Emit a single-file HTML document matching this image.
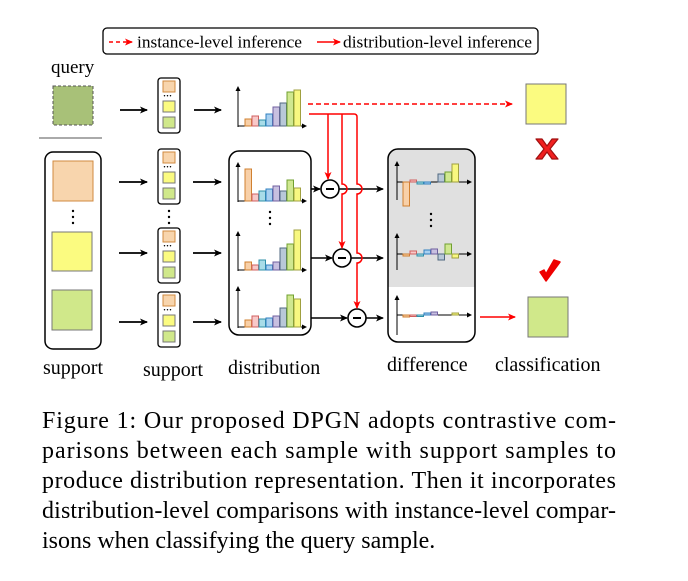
<!DOCTYPE html>
<html><head><meta charset="utf-8"><style>
html,body{margin:0;padding:0;background:#fff;}
svg{display:block;}
text{font-family:"Liberation Serif",serif;}
</style></head><body>
<svg width="688" height="581" viewBox="0 0 688 581" xmlns="http://www.w3.org/2000/svg">
<defs>
<marker id="ab" markerWidth="8" markerHeight="8" refX="7" refY="4" orient="auto" markerUnits="userSpaceOnUse"><path d="M0,0.5 L8,4 L0,7.5 L2,4 Z" fill="#000"/></marker>
<marker id="ar" markerWidth="8" markerHeight="8" refX="7" refY="4" orient="auto" markerUnits="userSpaceOnUse"><path d="M0,0.5 L8,4 L0,7.5 L2,4 Z" fill="#f00"/></marker>
<marker id="as" markerWidth="5" markerHeight="5" refX="4" refY="2.5" orient="auto" markerUnits="userSpaceOnUse"><path d="M0,0 L5,2.5 L0,5 Z" fill="#000"/></marker>
</defs>

<!-- legend -->
<rect x="103" y="28" width="435" height="26" rx="4" fill="#fff" stroke="#000" stroke-width="1.3"/>
<line x1="109" y1="42" x2="132" y2="42" stroke="#f00" stroke-width="1.5" stroke-dasharray="4,3" marker-end="url(#ar)"/>
<text x="137" y="47.5" font-size="17" textLength="165" lengthAdjust="spacingAndGlyphs">instance-level inference</text>
<line x1="317" y1="42" x2="340" y2="42" stroke="#f00" stroke-width="1.5" marker-end="url(#ar)"/>
<text x="343" y="47.5" font-size="17" textLength="189" lengthAdjust="spacingAndGlyphs">distribution-level inference</text>

<!-- query -->
<text x="51" y="73" font-size="19">query</text>
<rect x="53" y="86" width="40" height="39" fill="#a8c178" stroke="#555" stroke-dasharray="3,2"/>
<line x1="39" y1="138" x2="102" y2="138" stroke="#aaa" stroke-width="2"/>

<!-- support box -->
<rect x="45" y="152" width="56" height="197" rx="8" fill="#fff" stroke="#000" stroke-width="1.5"/>
<rect x="53" y="161" width="40" height="40" fill="#f8d5ad" stroke="#d08a40"/>
<circle cx="73" cy="211" r="1.2"/><circle cx="73" cy="217" r="1.2"/><circle cx="73" cy="223" r="1.2"/>
<rect x="52" y="232" width="40" height="39" fill="#fbfb80" stroke="#777"/>
<rect x="52" y="290" width="40" height="40" fill="#d0e88a" stroke="#777"/>

<!-- arrows col1 -->
<g stroke="#000" stroke-width="1.8" marker-end="url(#ab)">
<line x1="120" y1="110" x2="147" y2="110"/>
<line x1="119" y1="182" x2="147" y2="182"/>
<line x1="119" y1="253" x2="147" y2="253"/>
<line x1="119" y1="322" x2="147" y2="322"/>
<line x1="194" y1="110" x2="221" y2="110"/>
<line x1="193" y1="182" x2="221" y2="182"/>
<line x1="193" y1="253" x2="221" y2="253"/>
<line x1="193" y1="322" x2="221" y2="322"/>
</g>

<!-- small stacks -->
<g id="stk">
<rect x="158" y="78" width="22" height="55" rx="3" fill="#fff" stroke="#000" stroke-width="1.3"/>
<rect x="163" y="81" width="12" height="11" fill="#f8d5ad" stroke="#d08a40"/>
<text x="163" y="99" font-size="9" font-weight="bold">···</text>
<rect x="163" y="101" width="12" height="11" fill="#fbfb80" stroke="#777"/>
<rect x="163" y="117" width="12" height="11" fill="#d0e88a" stroke="#777"/>
</g>
<use href="#stk" y="71"/>
<use href="#stk" y="150"/>
<use href="#stk" y="214"/>
<circle cx="169" cy="211" r="1.2"/><circle cx="169" cy="217" r="1.2"/><circle cx="169" cy="223" r="1.2"/>

<!-- distribution box -->
<rect x="229" y="151" width="82" height="184" rx="10" fill="#fff" stroke="#000" stroke-width="1.5"/>
<circle cx="270" cy="212" r="1.2"/><circle cx="270" cy="218" r="1.2"/><circle cx="270" cy="224" r="1.2"/>

<!-- histogram axes -->
<g stroke="#000" stroke-width="1">
<line x1="238" y1="127" x2="238" y2="87" marker-end="url(#as)"/><line x1="238" y1="126" x2="306" y2="126" marker-end="url(#as)"/>
<line x1="238" y1="202" x2="238" y2="163" marker-end="url(#as)"/><line x1="238" y1="201" x2="306" y2="201" marker-end="url(#as)"/>
<line x1="238" y1="271" x2="238" y2="232" marker-end="url(#as)"/><line x1="238" y1="270" x2="306" y2="270" marker-end="url(#as)"/>
<line x1="238" y1="328" x2="238" y2="287" marker-end="url(#as)"/><line x1="238" y1="327" x2="306" y2="327" marker-end="url(#as)"/>
</g>
<g stroke-width="1">
<rect x="245" y="119" width="6.5" height="7" fill="#f8d0a8" stroke="#d08030"/>
<rect x="252" y="116" width="6.5" height="10" fill="#f8c8c8" stroke="#d06060"/>
<rect x="259" y="120" width="6.5" height="6" fill="#a8dce8" stroke="#3090a8"/>
<rect x="266" y="114" width="6.5" height="12" fill="#a8d0f0" stroke="#3080c0"/>
<rect x="273" y="107" width="6.5" height="19" fill="#c8c0e0" stroke="#7060a0"/>
<rect x="280" y="103" width="6.5" height="23" fill="#b8c8d8" stroke="#506880"/>
<rect x="287" y="92" width="6.5" height="34" fill="#d0e890" stroke="#70a030"/>
<rect x="294" y="90" width="6.5" height="36" fill="#f8f880" stroke="#a0a040"/>
<rect x="245" y="169" width="6.5" height="32" fill="#f8d0a8" stroke="#d08030"/>
<rect x="252" y="194" width="6.5" height="7" fill="#f8c8c8" stroke="#d06060"/>
<rect x="259" y="191" width="6.5" height="10" fill="#a8dce8" stroke="#3090a8"/>
<rect x="266" y="189" width="6.5" height="12" fill="#a8d0f0" stroke="#3080c0"/>
<rect x="273" y="186" width="6.5" height="15" fill="#c8c0e0" stroke="#7060a0"/>
<rect x="280" y="191" width="6.5" height="10" fill="#b8c8d8" stroke="#506880"/>
<rect x="287" y="180" width="6.5" height="21" fill="#d0e890" stroke="#70a030"/>
<rect x="294" y="188" width="6.5" height="13" fill="#f8f880" stroke="#a0a040"/>
<rect x="245" y="262" width="6.5" height="8" fill="#f8d0a8" stroke="#d08030"/>
<rect x="252" y="265" width="6.5" height="5" fill="#f8c8c8" stroke="#d06060"/>
<rect x="259" y="260" width="6.5" height="10" fill="#a8dce8" stroke="#3090a8"/>
<rect x="266" y="265" width="6.5" height="5" fill="#a8d0f0" stroke="#3080c0"/>
<rect x="273" y="262" width="6.5" height="8" fill="#c8c0e0" stroke="#7060a0"/>
<rect x="280" y="248" width="6.5" height="22" fill="#b8c8d8" stroke="#506880"/>
<rect x="287" y="244" width="6.5" height="26" fill="#d0e890" stroke="#70a030"/>
<rect x="294" y="230" width="6.5" height="40" fill="#f8f880" stroke="#a0a040"/>
<rect x="245" y="320" width="6.5" height="7" fill="#f8d0a8" stroke="#d08030"/>
<rect x="252" y="316" width="6.5" height="11" fill="#f8c8c8" stroke="#d06060"/>
<rect x="259" y="319" width="6.5" height="8" fill="#a8dce8" stroke="#3090a8"/>
<rect x="266" y="318" width="6.5" height="9" fill="#a8d0f0" stroke="#3080c0"/>
<rect x="273" y="316" width="6.5" height="11" fill="#c8c0e0" stroke="#7060a0"/>
<rect x="280" y="308" width="6.5" height="19" fill="#b8c8d8" stroke="#506880"/>
<rect x="287" y="295" width="6.5" height="32" fill="#d0e890" stroke="#70a030"/>
<rect x="294" y="299" width="6.5" height="28" fill="#f8f880" stroke="#a0a040"/>
</g>

<!-- difference box -->
<rect x="388" y="149" width="87" height="193" rx="10" fill="#fff"/>
<path d="M398,149 H465 A10,10 0 0 1 475,159 V287 H388 V159 A10,10 0 0 1 398,149 Z" fill="#e0e0e0"/>
<rect x="388" y="149" width="87" height="193" rx="10" fill="none" stroke="#000" stroke-width="1.5"/>
<circle cx="431" cy="214" r="1.2"/><circle cx="431" cy="220" r="1.2"/><circle cx="431" cy="226" r="1.2"/>
<g stroke="#000" stroke-width="1">
<line x1="397" y1="200" x2="397" y2="162" marker-end="url(#as)"/><line x1="397" y1="182" x2="471" y2="182" marker-end="url(#as)"/>
<line x1="397" y1="270" x2="397" y2="234" marker-end="url(#as)"/><line x1="397" y1="254" x2="471" y2="254" marker-end="url(#as)"/>
<line x1="397" y1="335" x2="397" y2="296" marker-end="url(#as)"/><line x1="397" y1="315" x2="471" y2="315" marker-end="url(#as)"/>
</g>
<g stroke-width="1">
<rect x="403" y="182" width="6.5" height="24" fill="#f8d0a8" stroke="#d08030"/>
<rect x="410" y="180" width="6.5" height="2" fill="#f8c8c8" stroke="#d06060"/>
<rect x="417" y="182" width="6.5" height="2" fill="#a8dce8" stroke="#3090a8"/>
<rect x="424" y="182" width="6.5" height="2" fill="#a8d0f0" stroke="#3080c0"/>
<rect x="438" y="174" width="6.5" height="8" fill="#b8c8d8" stroke="#506880"/>
<rect x="445" y="172" width="6.5" height="10" fill="#d0e890" stroke="#70a030"/>
<rect x="452" y="164" width="6.5" height="18" fill="#f8f880" stroke="#a0a040"/>
<rect x="403" y="254" width="6.5" height="2" fill="#f8d0a8" stroke="#d08030"/>
<rect x="410" y="251" width="6.5" height="3" fill="#f8c8c8" stroke="#d06060"/>
<rect x="417" y="254" width="6.5" height="2" fill="#a8dce8" stroke="#3090a8"/>
<rect x="424" y="250" width="6.5" height="4" fill="#a8d0f0" stroke="#3080c0"/>
<rect x="431" y="249" width="6.5" height="5" fill="#c8c0e0" stroke="#7060a0"/>
<rect x="438" y="254" width="6.5" height="6" fill="#b8c8d8" stroke="#506880"/>
<rect x="445" y="244" width="6.5" height="10" fill="#d0e890" stroke="#70a030"/>
<rect x="452" y="254" width="6.5" height="4" fill="#f8f880" stroke="#a0a040"/>
<rect x="403" y="315" width="6.5" height="2" fill="#f8d0a8" stroke="#d08030"/>
<rect x="410" y="315" width="6.5" height="1.5" fill="#f8c8c8" stroke="#d06060"/>
<rect x="417" y="315" width="6.5" height="1.5" fill="#a8dce8" stroke="#3090a8"/>
<rect x="424" y="313" width="6.5" height="2" fill="#a8d0f0" stroke="#3080c0"/>
<rect x="431" y="312" width="6.5" height="3" fill="#c8c0e0" stroke="#7060a0"/>
<rect x="452" y="313" width="6.5" height="2" fill="#f8f880" stroke="#a0a040"/>
</g>

<!-- black connectors and minus circles -->
<g stroke="#000" stroke-width="1.6" fill="none">
<line x1="311" y1="189" x2="320" y2="189" marker-end="url(#ab)"/>
<line x1="339" y1="189" x2="383" y2="189" marker-end="url(#ab)"/>
<line x1="311" y1="258" x2="332" y2="258" marker-end="url(#ab)"/>
<line x1="351" y1="258" x2="383" y2="258" marker-end="url(#ab)"/>
<line x1="311" y1="318" x2="347" y2="318" marker-end="url(#ab)"/>
<line x1="366" y1="318" x2="383" y2="318" marker-end="url(#ab)"/>
<circle cx="330" cy="189" r="9" fill="#fff"/>
<circle cx="342" cy="258" r="9" fill="#fff"/>
<circle cx="357" cy="318" r="9" fill="#fff"/>
<line x1="326" y1="189" x2="334" y2="189" stroke-width="2"/>
<line x1="338" y1="258" x2="346" y2="258" stroke-width="2"/>
<line x1="353" y1="318" x2="361" y2="318" stroke-width="2"/>
</g>

<!-- red lines -->
<line x1="308" y1="104" x2="512" y2="104" stroke="#f00" stroke-width="1.5" stroke-dasharray="5,3" marker-end="url(#ar)"/>
<g stroke="#f00" stroke-width="1.5" fill="none">
<path d="M309,114 H354 Q357,114 357,117 V184 A5,5 0 0 1 357,194 V253 A5,5 0 0 1 357,263 V308" marker-end="url(#ar)"/>
<path d="M328,114 V179" marker-end="url(#ar)"/>
<path d="M342,114 V184 A5,5 0 0 1 342,194 V248" marker-end="url(#ar)"/>
<line x1="480" y1="317" x2="515" y2="317" marker-end="url(#ar)"/>
</g>

<!-- results -->
<rect x="526" y="84" width="40" height="40" fill="#fbfb80" stroke="#777"/>
<path d="M536,139 L542,139 L547,146 L552,139 L558,139 L550,149 L558,159 L552,159 L547,152 L542,159 L536,159 L544,149 Z" fill="#f02020" stroke="#a01010" stroke-width="1.2" stroke-linejoin="round"/>
<path d="M540,272 L546,281 L560,262 L554,260 L546,274 L544,270 Z" fill="#e00" stroke="#e00" stroke-width="1.5" stroke-linejoin="round"/>
<rect x="528" y="297" width="40" height="40" fill="#d0e88a" stroke="#777"/>

<!-- labels -->
<g font-size="20">
<text x="43" y="374">support</text>
<text x="143" y="376">support</text>
<text x="228" y="374">distribution</text>
<text x="387" y="371">difference</text>
<text x="495" y="371">classification</text>
</g>

<!-- caption -->
<g font-size="24">
<text x="42" y="428" textLength="574" lengthAdjust="spacing">Figure 1: Our proposed DPGN adopts contrastive com-</text>
<text x="42" y="458" textLength="574" lengthAdjust="spacing">parisons between each sample with support samples to</text>
<text x="42" y="488" textLength="574" lengthAdjust="spacing">produce distribution representation. Then it incorporates</text>
<text x="42" y="518" textLength="574" lengthAdjust="spacing">distribution-level comparisons with instance-level compar-</text>
<text x="42" y="548">isons when classifying the query sample.</text>
</g>
</svg>
</body></html>
